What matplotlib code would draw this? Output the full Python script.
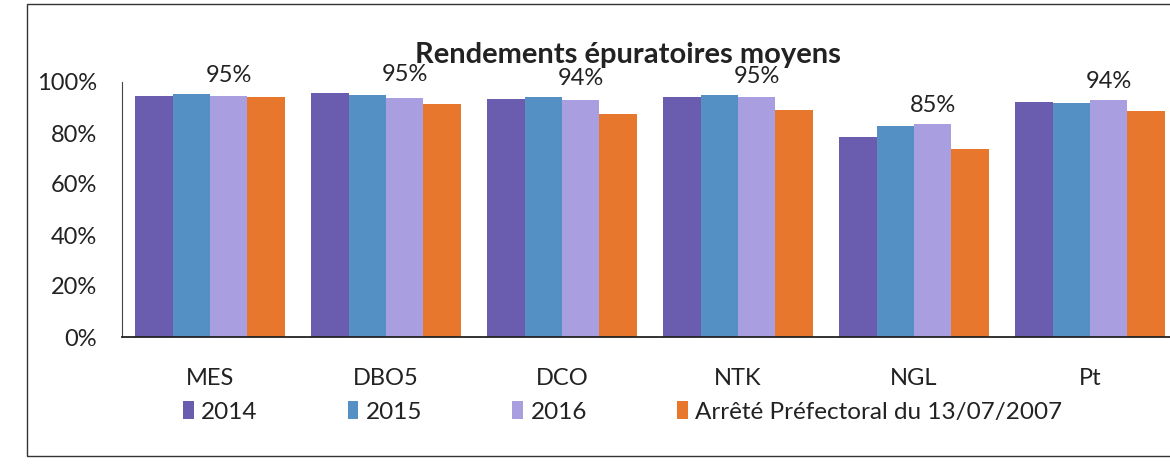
import matplotlib.pyplot as plt
from matplotlib.patches import Rectangle
import numpy as np

categories = ['MES', 'DBO5', 'DCO', 'NTK', 'NGL', 'Pt']
series_names = ['2014', '2015', '2016', 'Arrêté Préfectoral du 13/07/2007']
v2014 = [0.945, 0.957, 0.933, 0.941, 0.783, 0.922]
v2015 = [0.953, 0.948, 0.942, 0.949, 0.826, 0.919]
v2016 = [0.945, 0.937, 0.929, 0.942, 0.835, 0.929]
v_arrete = [0.942, 0.915, 0.875, 0.889, 0.737, 0.886]
labels_2016 = ['95%', '95%', '94%', '95%', '85%', '94%']

colors = ['#6a5db0', '#5490c4', '#a99fe0', '#e8772e']

plt.rcParams['font.family'] = ['Lato', 'DejaVu Sans']

fig = plt.figure(figsize=(11.7, 4.66), dpi=100)
# outer chart frame
fig.patches.append(Rectangle((27 / 1170, 10 / 466), 1.2, 452 / 466, transform=fig.transFigure,
                             fill=False, edgecolor='#333333', lw=1.0))

ax = fig.add_axes([122 / 1170, (466 - 337) / 466, 1056 / 1170, 255 / 466])

x = np.arange(len(categories))
w = 0.213
all_vals = [v2014, v2015, v2016, v_arrete]
for k, vals in enumerate(all_vals):
    ax.bar(x + (k - 1.5) * w, vals, width=w, color=colors[k], label=series_names[k])

for i, lab in enumerate(labels_2016):
    top = max(v2014[i], v2015[i], v2016[i], v_arrete[i])
    ax.text(x[i] + 0.5 * w, top + 0.03, lab, ha='center', va='bottom', fontsize=17, color='#222222')

ax.set_xlim(-0.5, 5.5)
ax.set_ylim(0, 1)
ax.set_yticks(np.arange(0, 1.01, 0.2))
ax.set_yticklabels(['%d%%' % round(t * 100) for t in np.arange(0, 1.01, 0.2)], fontsize=17, color='#222222')
ax.set_xticks(x)
ax.set_xticklabels(categories, fontsize=17, color='#222222')
ax.tick_params(axis='both', length=0)
ax.tick_params(axis='x', pad=22)
ax.tick_params(axis='y', pad=18)
for s in ['top', 'right']:
    ax.spines[s].set_visible(False)
ax.spines['left'].set_color('#444444')
ax.spines['left'].set_linewidth(0.8)
ax.spines['bottom'].set_color('#222222')
ax.spines['bottom'].set_linewidth(1.3)

fig.text(628 / 1170, 1 - 55 / 466, 'Rendements épuratoires moyens', ha='center', va='center',
         fontsize=21, fontweight='bold', color='#222222')

fig.legend(loc='center left', bbox_to_anchor=(161 / 1170, 1 - 412 / 466), ncol=4, frameon=False,
           fontsize=17.5, handlelength=0.45, handleheight=0.7, handletextpad=0.3, columnspacing=3.7,
           labelcolor='#222222')

fig.savefig('out.png', dpi=100, facecolor='white')
